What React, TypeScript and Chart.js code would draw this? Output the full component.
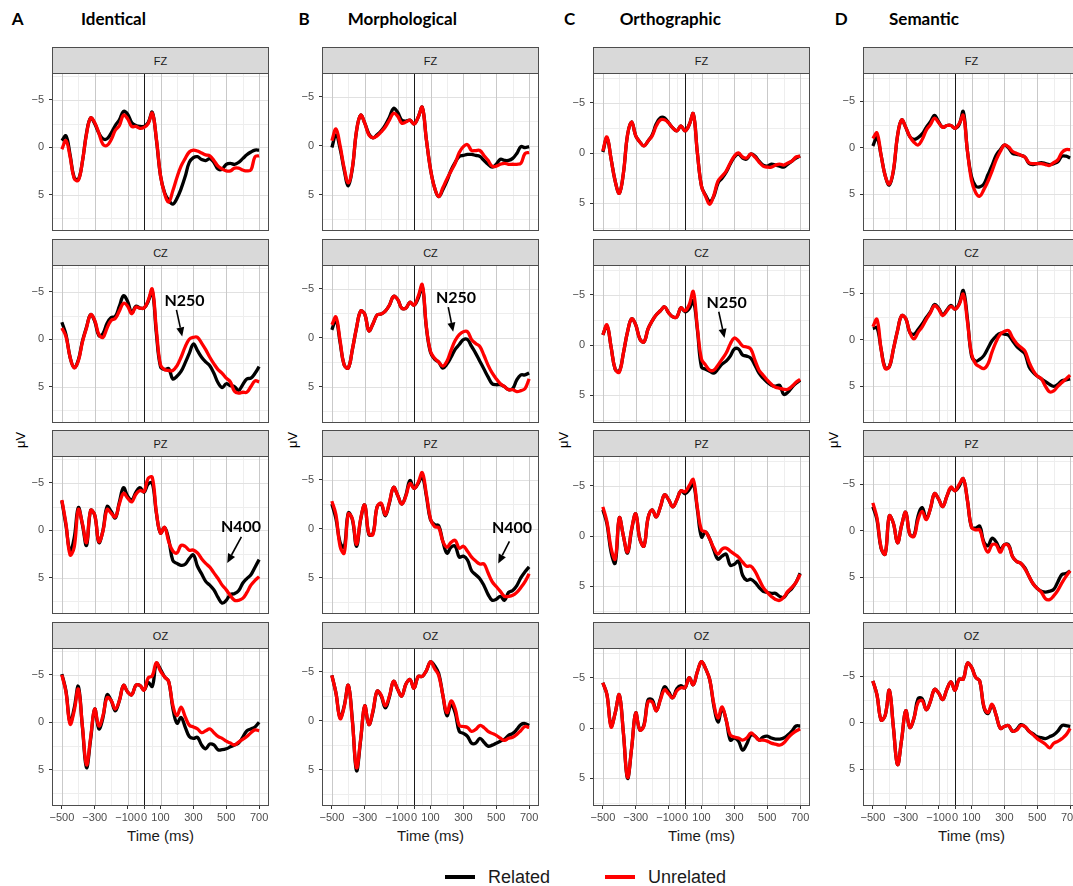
import React, { useEffect, useRef } from "react";
import { Chart, registerables } from "chart.js";

Chart.register(...registerables);

// ---------- data ----------
const TIME = [-500, -475, -450, -425, -400, -375, -350, -325, -300, -275, -250, -225, -200, -175, -150, -125, -100, -75, -50, -25, 0, 25, 50, 75, 100, 125, 150, 175, 200, 225, 250, 275, 300, 325, 350, 375, 400, 425, 450, 475, 500, 525, 550, 575, 600, 625, 650, 675, 700];

const A_FZ_REL = [-0.7, -1.2, 0.8, 3.2, 3.4, 1.5, -1.5, -3.1, -2.5, -1.5, -0.9, -0.9, -1.5, -2.3, -2.9, -3.8, -3.5, -2.6, -2.3, -2.2, -2.2, -2.6, -3.7, -0.8, 3.0, 4.8, 5.6, 6.0, 5.4, 4.4, 3.1, 1.6, 1.1, 1.0, 1.3, 1.4, 1.2, 1.6, 2.3, 2.3, 1.8, 1.7, 1.8, 1.6, 1.2, 0.8, 0.5, 0.3, 0.3];
const A_FZ_UNR = [0.2, -0.7, 1.0, 3.3, 3.5, 1.5, -1.4, -3.1, -2.6, -1.5, -0.3, -0.2, -0.8, -1.8, -2.3, -3.4, -3.0, -2.2, -2.2, -2.0, -2.1, -2.5, -3.6, -0.9, 3.0, 4.9, 5.8, 4.6, 3.2, 2.0, 1.2, 0.5, 0.3, 0.4, 0.6, 0.8, 0.9, 1.4, 2.0, 2.3, 2.5, 2.5, 2.2, 2.2, 2.4, 2.5, 2.4, 1.0, 0.9];
const A_CZ_REL = [-1.8, -0.5, 1.9, 3.0, 2.2, 0.2, -1.3, -2.6, -1.9, -0.4, -0.6, -1.7, -2.3, -2.4, -3.5, -4.6, -4.0, -2.8, -3.5, -3.3, -3.3, -4.0, -5.1, -0.6, 2.9, 3.2, 3.1, 4.2, 3.9, 3.4, 2.5, 1.5, 0.5, 1.2, 1.9, 2.4, 2.8, 3.6, 4.6, 5.1, 4.7, 4.9, 5.0, 5.4, 4.8, 4.2, 4.1, 3.6, 2.9];
const A_CZ_UNR = [-1.2, -0.3, 1.9, 3.0, 2.3, 0.3, -1.2, -2.6, -2.0, -0.5, -0.2, -1.2, -2.0, -2.2, -3.0, -3.8, -3.5, -2.7, -3.4, -3.3, -3.3, -4.1, -5.3, -1.0, 2.7, 3.2, 3.3, 3.3, 2.8, 1.9, 0.8, 0.0, -0.2, -0.2, 0.4, 1.1, 1.9, 2.6, 3.2, 3.6, 4.1, 4.5, 5.5, 5.7, 5.6, 5.6, 5.0, 4.4, 4.5];
const A_PZ_REL = [-3.1, -0.5, 2.2, 0.8, -2.4, -0.6, 1.6, -2.1, -1.6, 1.3, 0.0, -2.5, -2.0, -1.3, -3.0, -4.5, -3.6, -3.2, -4.0, -4.5, -4.0, -4.9, -5.0, -1.8, 0.3, -0.3, 1.0, 3.2, 3.5, 3.7, 3.6, 3.0, 2.6, 3.8, 4.6, 5.4, 5.8, 6.3, 7.1, 7.7, 7.4, 6.8, 6.7, 6.4, 5.6, 5.1, 4.7, 3.9, 3.1];
const A_PZ_UNR = [-3.2, -0.7, 2.6, 1.8, -2.2, -0.7, 1.3, -2.1, -1.6, 1.2, 0.1, -2.2, -1.8, -1.4, -2.8, -3.9, -3.4, -3.0, -3.8, -4.2, -4.1, -5.5, -5.6, -1.9, 0.3, -0.3, 1.2, 2.2, 2.4, 1.6, 1.7, 2.1, 2.1, 2.4, 3.0, 3.5, 3.9, 4.5, 5.1, 5.8, 6.3, 6.9, 7.4, 7.4, 7.2, 6.6, 5.8, 5.3, 4.9];
const A_OZ_REL = [-5.1, -3.3, 0.0, -1.5, -3.8, 0.5, 4.8, 1.8, -1.4, 0.7, -0.5, -2.9, -2.3, -1.2, -2.3, -3.9, -3.2, -2.9, -3.9, -3.9, -3.4, -4.2, -3.8, -6.2, -5.6, -4.8, -4.3, -1.5, 0.1, -0.5, 0.5, 1.5, 1.7, 1.6, 2.4, 2.8, 2.3, 2.4, 2.9, 2.9, 2.8, 2.6, 2.4, 2.2, 1.6, 0.9, 0.7, 0.5, 0.0];
const A_OZ_UNR = [-5.0, -3.2, 0.2, -1.2, -3.5, 0.4, 4.5, 1.6, -1.4, 0.4, -0.7, -2.6, -2.3, -1.4, -2.3, -3.9, -3.2, -2.9, -3.9, -3.9, -3.4, -4.7, -4.9, -6.3, -5.4, -4.8, -4.3, -1.8, -0.7, -1.6, -0.6, 0.3, 0.5, 0.7, 1.1, 0.9, 0.7, 1.1, 1.5, 1.7, 2.0, 2.2, 2.4, 2.1, 1.8, 1.5, 1.1, 0.8, 0.9];

const B_FZ_REL = [0.2, -1.1, 0.3, 2.5, 4.1, 2.3, -1.5, -3.1, -2.3, -1.2, -0.8, -1.1, -1.5, -2.1, -2.9, -3.8, -3.4, -2.6, -2.5, -2.6, -2.2, -2.9, -3.9, -0.6, 2.4, 4.3, 5.2, 4.5, 3.6, 2.5, 1.7, 1.1, 1.0, 0.9, 0.9, 1.0, 1.1, 1.5, 1.9, 2.2, 1.9, 1.4, 1.5, 1.5, 1.3, 0.8, 0.1, 0.2, 0.1];
const B_FZ_UNR = [-0.5, -1.7, 0.0, 2.3, 3.8, 2.2, -1.5, -3.1, -2.3, -1.1, -0.8, -1.0, -1.4, -1.9, -2.6, -3.3, -3.0, -2.3, -2.4, -2.6, -2.2, -2.9, -3.9, -0.6, 2.4, 4.3, 5.2, 4.3, 3.4, 2.6, 1.8, 0.7, 0.1, -0.1, 0.5, 0.5, 0.5, 1.0, 1.5, 2.1, 2.1, 1.9, 1.8, 1.9, 1.9, 1.9, 1.8, 0.8, 0.7];
const B_CZ_REL = [-0.8, -1.8, 0.5, 2.8, 3.1, 1.2, -1.0, -2.7, -2.4, -0.7, -1.4, -2.3, -2.4, -2.7, -3.3, -4.2, -3.9, -3.0, -3.0, -3.6, -3.3, -4.0, -5.2, -1.0, 1.5, 2.2, 2.5, 3.1, 2.7, 2.0, 1.2, 0.7, 0.2, 0.2, 0.9, 1.6, 2.4, 3.2, 4.0, 4.7, 4.8, 4.8, 5.0, 5.3, 5.2, 4.3, 3.8, 3.8, 3.6];
const B_CZ_UNR = [-1.3, -2.1, 0.3, 2.8, 3.1, 1.2, -1.0, -2.7, -2.4, -0.7, -1.4, -2.3, -2.4, -2.7, -3.3, -4.2, -3.9, -3.0, -3.0, -3.6, -3.3, -4.2, -5.4, -1.1, 1.4, 2.1, 2.5, 2.9, 2.4, 1.3, 0.3, -0.3, -0.6, -0.6, 0.2, 0.6, 0.9, 1.8, 2.8, 3.6, 4.2, 4.7, 5.0, 5.3, 5.3, 5.5, 5.4, 5.2, 4.2];
const B_PZ_REL = [-2.5, -1.0, 1.4, 1.9, -1.6, -0.9, 1.8, -0.9, -2.4, 0.6, 0.5, -2.2, -2.5, -1.3, -2.6, -4.2, -3.4, -2.5, -3.4, -4.9, -4.1, -4.6, -5.3, -3.3, -0.9, -0.4, -0.3, 1.3, 2.5, 1.9, 1.8, 2.9, 2.8, 3.2, 4.3, 4.7, 5.1, 5.8, 6.7, 7.3, 7.2, 6.9, 7.3, 6.5, 6.3, 5.8, 5.0, 4.4, 3.9];
const B_PZ_UNR = [-2.8, -1.4, 1.8, 2.5, -1.5, -1.0, 1.6, -1.0, -2.4, 0.5, 0.6, -2.2, -2.6, -1.4, -2.7, -4.2, -3.4, -2.5, -3.3, -4.6, -4.1, -4.7, -5.7, -3.5, -1.0, -0.2, -0.1, 1.3, 1.9, 1.4, 1.2, 2.0, 1.8, 2.3, 2.9, 3.3, 3.6, 3.6, 4.5, 5.4, 5.9, 6.4, 6.9, 6.9, 6.8, 6.5, 6.0, 5.4, 4.6];
const B_OZ_REL = [-4.6, -2.8, -0.3, -1.5, -3.6, 0.0, 5.1, 2.0, -1.5, 0.4, -0.9, -3.0, -2.5, -1.3, -2.4, -4.0, -3.2, -2.5, -3.7, -4.2, -3.3, -4.5, -4.5, -5.1, -6.0, -5.6, -4.8, -2.6, -0.5, -1.6, -0.8, 1.1, 1.3, 1.6, 2.3, 2.3, 1.8, 2.2, 2.6, 2.5, 2.3, 2.1, 1.9, 1.5, 1.3, 0.9, 0.4, 0.3, 0.5];
const B_OZ_UNR = [-4.6, -2.8, -0.2, -1.4, -3.6, 0.1, 4.8, 1.9, -1.5, 0.4, -1.0, -3.0, -2.6, -1.5, -2.5, -4.0, -3.2, -2.5, -3.7, -4.2, -3.3, -4.5, -4.5, -5.1, -6.0, -5.3, -4.6, -2.6, -0.8, -2.0, -1.2, 0.5, 0.6, 0.7, 1.1, 0.9, 0.5, 0.7, 1.1, 1.3, 1.5, 1.8, 2.0, 1.8, 1.7, 1.4, 1.0, 0.6, 0.7];

const C_FZ_REL = [-0.1, -1.5, 0.6, 2.8, 4.0, 2.0, -1.8, -3.1, -1.7, -1.1, -0.7, -1.2, -1.8, -2.9, -3.5, -3.5, -3.0, -2.5, -2.2, -2.7, -2.2, -2.8, -3.9, 0.0, 3.3, 4.2, 4.8, 4.3, 3.0, 2.5, 1.9, 1.1, 0.4, 0.1, 0.5, 0.6, 0.1, 0.3, 0.8, 1.2, 1.3, 1.1, 1.2, 1.3, 1.4, 1.1, 0.8, 0.5, 0.3];
const C_FZ_UNR = [-0.2, -1.6, 0.6, 2.8, 4.0, 2.0, -1.8, -3.1, -1.7, -1.1, -0.7, -1.2, -1.7, -2.7, -3.3, -3.3, -3.0, -2.5, -2.2, -2.7, -2.2, -2.8, -3.9, 0.0, 3.3, 4.3, 5.1, 4.2, 2.8, 2.3, 1.8, 1.0, 0.3, 0.0, 0.4, 0.5, 0.1, 0.4, 0.9, 1.3, 1.4, 1.4, 1.2, 1.1, 1.2, 1.0, 0.8, 0.4, 0.3];
const C_CZ_REL = [-1.0, -1.9, 0.2, 2.4, 2.6, 0.8, -1.3, -2.6, -2.0, -0.6, -0.3, -1.6, -2.4, -3.0, -3.4, -3.8, -3.2, -2.8, -2.8, -3.7, -3.3, -3.6, -4.4, -1.5, 2.2, 2.4, 2.6, 2.8, 2.4, 1.9, 1.6, 1.1, 0.4, 0.4, 1.0, 1.1, 1.3, 2.0, 2.8, 3.3, 3.7, 4.0, 4.1, 4.0, 4.9, 4.7, 4.2, 3.8, 3.5];
const C_CZ_UNR = [-1.0, -2.0, 0.2, 2.4, 2.7, 0.8, -1.3, -2.6, -2.0, -0.6, -0.3, -1.6, -2.4, -3.0, -3.4, -3.8, -3.2, -2.8, -2.8, -3.7, -3.4, -4.0, -5.3, -1.7, 1.4, 2.0, 2.5, 2.5, 2.0, 1.4, 0.8, -0.1, -0.7, -0.4, 0.1, 0.2, 0.4, 1.5, 2.5, 3.0, 3.5, 3.9, 4.2, 4.3, 4.4, 4.4, 4.1, 3.7, 3.4];
const C_PZ_REL = [-2.6, -1.2, 1.6, 2.7, -1.8, 0.0, 1.7, -0.6, -2.2, 0.3, 1.0, -1.8, -2.6, -1.9, -2.9, -4.1, -3.6, -2.9, -3.6, -4.5, -4.2, -4.6, -5.2, -2.6, 0.1, -0.4, 0.3, 1.4, 2.3, 2.0, 1.8, 2.9, 2.8, 2.5, 3.9, 4.4, 4.3, 4.6, 5.1, 5.5, 5.6, 5.7, 5.7, 6.0, 6.1, 5.6, 5.2, 4.6, 3.7];
const C_PZ_UNR = [-2.9, -1.4, 1.2, 2.3, -1.8, 0.0, 1.6, -0.7, -2.2, 0.3, 1.0, -1.8, -2.6, -1.9, -2.9, -4.1, -3.6, -2.9, -3.6, -4.5, -4.4, -5.0, -5.6, -2.8, -0.6, -0.4, 0.3, 1.2, 1.8, 1.3, 1.2, 1.5, 1.8, 2.1, 2.6, 3.0, 3.0, 3.5, 4.3, 5.1, 5.6, 6.0, 6.3, 6.4, 6.1, 5.5, 5.1, 4.6, 3.8];
const C_OZ_REL = [-4.5, -3.3, -0.2, -1.5, -3.3, 0.5, 5.0, 2.0, -1.5, 0.2, -0.3, -2.8, -2.8, -1.7, -2.9, -4.1, -3.6, -3.0, -3.9, -4.2, -4.0, -5.0, -4.3, -5.6, -6.6, -5.9, -4.8, -2.2, -0.6, -1.9, -0.8, 1.2, 1.0, 1.3, 2.2, 1.6, 0.7, 0.8, 1.2, 0.9, 0.8, 1.0, 1.1, 1.1, 1.0, 0.7, 0.3, -0.2, -0.2];
const C_OZ_UNR = [-4.5, -3.3, -0.1, -1.5, -3.3, 0.5, 4.9, 2.0, -1.5, 0.2, -0.2, -2.6, -2.6, -1.7, -2.8, -3.8, -3.4, -3.0, -3.7, -4.0, -4.0, -5.0, -4.3, -5.6, -6.6, -5.9, -4.8, -2.4, -1.0, -2.1, -0.8, 0.7, 0.9, 1.0, 1.2, 1.0, 0.5, 0.8, 1.2, 1.2, 1.3, 1.5, 1.6, 1.7, 1.5, 1.0, 0.6, 0.3, 0.1];

const D_FZ_REL = [-0.2, -1.1, 0.8, 3.0, 4.0, 2.5, -1.3, -3.0, -2.2, -1.2, -0.9, -1.1, -1.5, -2.2, -2.8, -3.5, -2.8, -2.2, -2.4, -2.4, -2.1, -2.5, -3.9, 0.3, 3.1, 4.1, 4.2, 3.9, 2.9, 1.9, 0.8, 0.2, -0.3, 0.0, 0.6, 0.7, 0.8, 1.0, 1.7, 1.8, 1.7, 1.6, 1.7, 1.8, 1.7, 1.5, 0.9, 0.9, 1.1];
const D_FZ_UNR = [-1.0, -1.6, 0.8, 3.0, 3.9, 2.4, -1.3, -3.0, -2.2, -1.2, -0.6, -0.3, -0.9, -1.9, -2.5, -3.2, -2.7, -2.2, -2.4, -2.4, -2.1, -2.6, -3.5, 0.3, 3.5, 4.8, 5.2, 4.5, 3.6, 2.5, 1.3, 0.4, -0.3, -0.1, 0.4, 0.6, 0.8, 1.0, 1.6, 1.7, 1.7, 1.7, 1.8, 1.9, 1.6, 1.3, 0.5, 0.2, 0.2];
const D_CZ_REL = [-1.2, -1.3, 1.0, 3.0, 2.9, 1.0, -1.0, -2.6, -2.3, -0.8, -0.6, -1.1, -1.7, -2.4, -3.0, -3.8, -3.4, -2.7, -3.2, -3.7, -3.3, -3.9, -5.3, -2.3, 1.7, 2.3, 2.1, 1.7, 0.9, 0.1, -0.4, -0.7, -0.6, -0.5, 0.1, 0.7, 1.1, 1.5, 2.9, 3.5, 3.9, 4.2, 4.5, 4.8, 5.0, 4.8, 4.4, 4.3, 4.2];
const D_CZ_UNR = [-1.4, -2.2, 1.0, 3.1, 2.9, 1.0, -1.0, -2.6, -2.3, -0.8, -0.1, -0.8, -1.4, -2.2, -2.9, -3.7, -3.3, -2.6, -3.1, -3.6, -3.3, -3.8, -4.9, -2.0, 1.5, 2.6, 2.9, 3.1, 2.6, 1.3, 0.2, -0.6, -0.9, -1.0, -0.2, 0.4, 0.8, 1.2, 2.4, 3.3, 3.9, 4.2, 5.0, 5.6, 5.5, 5.0, 4.6, 4.2, 3.8];
const D_PZ_REL = [-2.6, -1.2, 1.9, 2.5, -1.6, -0.8, 1.3, -0.6, -2.0, 0.4, 0.5, -1.6, -2.5, -1.3, -2.4, -4.0, -3.4, -2.6, -3.7, -4.6, -4.3, -4.8, -5.6, -3.3, -0.4, -0.3, -0.5, 1.2, 1.6, 0.8, 1.2, 2.0, 1.5, 1.5, 2.8, 3.3, 3.5, 4.0, 4.9, 5.7, 6.2, 6.5, 6.6, 6.5, 6.3, 5.5, 4.7, 4.6, 4.3];
const D_PZ_UNR = [-3.0, -1.4, 1.8, 2.5, -1.6, -0.8, 1.3, -0.6, -2.0, 0.4, 0.6, -1.2, -2.1, -1.2, -2.4, -4.0, -3.4, -2.6, -3.7, -4.7, -4.3, -5.0, -5.6, -3.3, -0.4, -0.1, -0.1, 1.4, 2.3, 1.5, 1.5, 2.3, 1.5, 1.6, 2.8, 3.3, 3.5, 4.1, 4.9, 5.7, 6.2, 6.6, 7.3, 7.4, 7.0, 6.4, 5.6, 4.9, 4.3];
const D_OZ_REL = [-4.5, -3.0, -0.3, -0.8, -3.5, 0.5, 4.5, 1.8, -1.3, 0.5, -0.5, -2.6, -2.6, -1.4, -2.3, -3.6, -3.2, -2.5, -3.6, -4.4, -3.5, -4.7, -4.7, -6.4, -6.0, -4.9, -4.5, -1.7, -1.0, -1.9, -0.8, 0.6, 0.4, 0.3, 0.9, 0.7, 0.2, 0.4, 0.9, 1.2, 1.5, 1.6, 1.7, 1.5, 1.3, 0.9, 0.3, 0.3, 0.4];
const D_OZ_UNR = [-4.5, -3.0, -0.3, -0.8, -3.5, 0.5, 4.5, 1.8, -1.3, 0.5, -0.5, -2.2, -2.4, -1.4, -2.3, -3.6, -3.2, -2.5, -3.6, -4.4, -3.5, -4.7, -4.7, -6.4, -6.0, -4.9, -4.5, -1.8, -1.1, -2.0, -0.8, 0.6, 0.4, 0.3, 0.9, 0.8, 0.3, 0.4, 0.9, 1.3, 1.7, 2.0, 2.3, 2.7, 2.2, 2.0, 1.7, 1.3, 0.6];

const X_TICKS = [-500, -300, -100, 0, 100, 300, 500, 700];
const X_MINOR = [-400, -200, -50, 50, 200, 400, 600];
const Y_TICKS = [-5, 0, 5];
const Y_MINOR = [-7.5, -2.5, 2.5, 7.5];
const SERIES_LABELS = ["Related", "Unrelated"];
const ELECTRODES = ["FZ", "CZ", "PZ", "OZ"];
const CONDITION_LETTERS = ["A", "B", "C", "D"];
const CONDITION_NAMES = ["Identical", "Morphological", "Orthographic", "Semantic"];

const PANEL_DATA = [
  [[A_FZ_REL, A_FZ_UNR], [A_CZ_REL, A_CZ_UNR], [A_PZ_REL, A_PZ_UNR], [A_OZ_REL, A_OZ_UNR]],
  [[B_FZ_REL, B_FZ_UNR], [B_CZ_REL, B_CZ_UNR], [B_PZ_REL, B_PZ_UNR], [B_OZ_REL, B_OZ_UNR]],
  [[C_FZ_REL, C_FZ_UNR], [C_CZ_REL, C_CZ_UNR], [C_PZ_REL, C_PZ_UNR], [C_OZ_REL, C_OZ_UNR]],
  [[D_FZ_REL, D_FZ_UNR], [D_CZ_REL, D_CZ_UNR], [D_PZ_REL, D_PZ_UNR], [D_OZ_REL, D_OZ_UNR]],
];

const ANNOTATIONS = [
  { col: 0, row: 1, text: "N250", tx: 246, ty: -3.5, fx: 197, fy: -3.1, ex: 232, ey: -0.3 },
  { col: 0, row: 2, text: "N400", tx: 590, ty: 0.2, fx: 592, fy: 0.7, ex: 506, ey: 3.45 },
  { col: 1, row: 1, text: "N250", tx: 255, ty: -3.5, fx: 208, fy: -3.1, ex: 238, ey: -0.6 },
  { col: 1, row: 2, text: "N400", tx: 596, ty: 0.4, fx: 580, fy: 1.3, ex: 512, ey: 3.55 },
  { col: 2, row: 1, text: "N250", tx: 253, ty: -3.7, fx: 205, fy: -3.3, ex: 240, ey: -0.7 },
];

// ---------- layout ----------
const PLOT_LEFT = [52, 322, 593, 863];
const PLOT_TOP = [73, 265, 456, 648];
const PLOT_W = 217;
const PLOT_H = 158;
const STRIP_H = 26;
const Y_AXIS_W = 40;
const PAD_T = 8;
const PAD_R = 16;
const X_AXIS_H = 26;
const X_RANGE = [-560, 760];
const Y_RANGE = [[-7.85, 8.85], [-7.4, 8.7], [-7.95, 7.75], [-8.05, 8.95]];
const COLORS = ["#000000", "#ff0000"];
const HEADER_POS = [[11.7, 81], [298.5, 347.7], [564, 619.7], [834.8, 889]];
const YTITLE_X = [20, 292, 562.5, 833];

const SANS = '"Liberation Sans", Arial, sans-serif';
const BOLD_FONT = 'Lato, "Liberation Sans", sans-serif';

function fmtTick(v: number) {
  return v < 0 ? "\u2212" + Math.abs(v) : String(v);
}

function Panel({ col, row }: { col: number; row: number }) {
  const ref = useRef<HTMLCanvasElement>(null);
  const bottom = row === 3;
  const cw = Y_AXIS_W + PLOT_W + PAD_R;
  const ch = PAD_T + PLOT_H + (bottom ? X_AXIS_H : 0);

  useEffect(() => {
    const series = PANEL_DATA[col][row];
    const notes = ANNOTATIONS.filter((a) => a.col === col && a.row === row);
    const decor = {
      id: "decor" + col + row,
      beforeDatasetsDraw(chart: any) {
        const { ctx, chartArea: a, scales } = chart;
        const x = scales.x;
        const y = scales.y;
        ctx.save();
        ctx.beginPath();
        ctx.rect(a.left, a.top, a.right - a.left, a.bottom - a.top);
        ctx.clip();
        ctx.lineWidth = 1;
        const vline = (v: number) => {
          const p = Math.round(x.getPixelForValue(v)) + 0.5;
          ctx.beginPath();
          ctx.moveTo(p, a.top);
          ctx.lineTo(p, a.bottom);
          ctx.stroke();
        };
        const hline = (v: number) => {
          const p = Math.round(y.getPixelForValue(v)) + 0.5;
          ctx.beginPath();
          ctx.moveTo(a.left, p);
          ctx.lineTo(a.right, p);
          ctx.stroke();
        };
        ctx.strokeStyle = "#eeeeee";
        X_MINOR.forEach(vline);
        Y_MINOR.forEach(hline);
        ctx.strokeStyle = "#e1e1e1";
        Y_TICKS.forEach(hline);
        ctx.strokeStyle = "#c9c9c9";
        X_TICKS.filter((v) => v !== 0).forEach(vline);
        ctx.strokeStyle = "#1a1a1a";
        vline(0);
        ctx.restore();
      },
      afterDatasetsDraw(chart: any) {
        const { ctx, scales } = chart;
        const x = scales.x;
        const y = scales.y;
        notes.forEach((n) => {
          ctx.save();
          ctx.fillStyle = "#000";
          ctx.strokeStyle = "#000";
          ctx.font = "bold 16px " + BOLD_FONT;
          ctx.textAlign = "center";
          ctx.textBaseline = "alphabetic";
          ctx.fillText(n.text, x.getPixelForValue(n.tx), y.getPixelForValue(n.ty));
          const x1 = x.getPixelForValue(n.fx);
          const y1 = y.getPixelForValue(n.fy);
          const x2 = x.getPixelForValue(n.ex);
          const y2 = y.getPixelForValue(n.ey);
          const ang = Math.atan2(y2 - y1, x2 - x1);
          const hl = 9;
          const hw = 4;
          const bx = x2 - hl * Math.cos(ang);
          const by = y2 - hl * Math.sin(ang);
          ctx.lineWidth = 1.6;
          ctx.beginPath();
          ctx.moveTo(x1, y1);
          ctx.lineTo(bx, by);
          ctx.stroke();
          ctx.beginPath();
          ctx.moveTo(x2, y2);
          ctx.lineTo(bx + hw * Math.sin(ang), by - hw * Math.cos(ang));
          ctx.lineTo(bx - hw * Math.sin(ang), by + hw * Math.cos(ang));
          ctx.closePath();
          ctx.fill();
          ctx.restore();
        });
      },
      afterDraw(chart: any) {
        const { ctx, chartArea: a } = chart;
        ctx.save();
        ctx.strokeStyle = "#4d4d4d";
        ctx.lineWidth = 1;
        ctx.strokeRect(a.left + 0.5, a.top + 0.5, a.right - a.left - 1, a.bottom - a.top - 1);
        ctx.restore();
      },
    };

    const chart = new Chart(ref.current as HTMLCanvasElement, {
      type: "line",
      data: {
        datasets: series.map((vals, si) => ({
          label: SERIES_LABELS[si],
          data: TIME.map((t, i) => ({ x: t, y: vals[i] })),
          borderColor: COLORS[si],
          backgroundColor: COLORS[si],
          borderWidth: 3.3,
          pointRadius: 0,
          tension: 0.4,
          fill: false,
          order: si === 0 ? 1 : 0,
        })),
      },
      options: {
        responsive: false,
        animation: false,
        events: [],
        layout: { padding: { top: PAD_T, right: PAD_R, left: 0, bottom: 0 } },
        plugins: { legend: { display: false }, tooltip: { enabled: false }, title: { display: false } },
        scales: {
          x: {
            type: "linear",
            min: X_RANGE[0],
            max: X_RANGE[1],
            afterBuildTicks: (s: any) => {
              s.ticks = X_TICKS.map((v) => ({ value: v }));
            },
            afterFit: (s: any) => {
              s.height = bottom ? X_AXIS_H : 0;
              s.paddingLeft = 0;
              s.paddingRight = 0;
            },
            ticks: {
              display: bottom,
              autoSkip: false,
              maxRotation: 0,
              minRotation: 0,
              padding: 2,
              color: "#4d4d4d",
              font: { family: SANS, size: 11 },
              callback: (v: any) => fmtTick(Number(v)),
            },
            grid: { drawOnChartArea: false, drawTicks: bottom, tickLength: 3, tickColor: "#333333" },
            border: { display: false },
          },
          y: {
            type: "linear",
            reverse: true,
            min: Y_RANGE[col][0],
            max: Y_RANGE[col][1],
            afterBuildTicks: (s: any) => {
              s.ticks = Y_TICKS.map((v) => ({ value: v }));
            },
            afterFit: (s: any) => {
              s.width = Y_AXIS_W;
              s.paddingTop = 0;
              s.paddingBottom = 0;
            },
            ticks: {
              padding: 5,
              color: "#4d4d4d",
              font: { family: SANS, size: 11 },
              callback: (v: any) => fmtTick(Number(v)),
            },
            grid: { drawOnChartArea: false, drawTicks: true, tickLength: 3, tickColor: "#333333" },
            border: { display: false },
          },
        },
      },
      plugins: [decor],
    } as any);
    return () => chart.destroy();
  }, [col, row]);

  return (
    <>
      <div
        style={{
          position: "absolute",
          left: PLOT_LEFT[col],
          top: PLOT_TOP[row] - STRIP_H,
          width: PLOT_W,
          height: STRIP_H + 1,
          boxSizing: "border-box",
          border: "1px solid #4d4d4d",
          background: "#d9d9d9",
          display: "flex",
          alignItems: "center",
          justifyContent: "center",
          fontFamily: SANS,
          fontSize: 11,
          color: "#1a1a1a",
        }}
      >
        {ELECTRODES[row]}
      </div>
      <canvas
        ref={ref}
        width={cw}
        height={ch}
        style={{
          position: "absolute",
          left: PLOT_LEFT[col] - Y_AXIS_W,
          top: PLOT_TOP[row] - PAD_T,
          width: cw,
          height: ch,
          display: "block",
        }}
      />
    </>
  );
}

export default function App() {
  const cols = [0, 1, 2, 3];
  const rows = [0, 1, 2, 3];
  return (
    <div
      style={{
        position: "absolute",
        left: 0,
        top: 0,
        width: 1073,
        height: 886,
        overflow: "hidden",
        background: "#ffffff",
      }}
    >
      {cols.map((c) => (
        <React.Fragment key={"h" + c}>
          <div
            style={{
              position: "absolute",
              left: HEADER_POS[c][0],
              top: 10,
              fontFamily: BOLD_FONT,
              fontWeight: 700,
              fontSize: 17,
              lineHeight: "17px",
              color: "#000",
              whiteSpace: "nowrap",
            }}
          >
            {CONDITION_LETTERS[c]}
          </div>
          <div
            style={{
              position: "absolute",
              left: HEADER_POS[c][1],
              top: 10,
              fontFamily: BOLD_FONT,
              fontWeight: 700,
              fontSize: 17,
              lineHeight: "17px",
              color: "#000",
              whiteSpace: "nowrap",
            }}
          >
            {CONDITION_NAMES[c]}
          </div>
          <div
            style={{
              position: "absolute",
              left: YTITLE_X[c],
              top: 440,
              transform: "translate(-50%, -50%) rotate(-90deg)",
              fontFamily: SANS,
              fontSize: 13,
              color: "#000",
              whiteSpace: "nowrap",
            }}
          >
            μV
          </div>
          <div
            style={{
              position: "absolute",
              left: PLOT_LEFT[c] + PLOT_W / 2,
              top: 835,
              transform: "translate(-50%, -50%)",
              fontFamily: SANS,
              fontSize: 15,
              color: "#1a1a1a",
              whiteSpace: "nowrap",
            }}
          >
            Time (ms)
          </div>
        </React.Fragment>
      ))}
      {cols.map((c) => rows.map((r) => <Panel key={c + "-" + r} col={c} row={r} />))}
      {SERIES_LABELS.map((lab, i) => (
        <React.Fragment key={lab}>
          <div
            style={{
              position: "absolute",
              left: i === 0 ? 445 : 605,
              top: 875,
              width: 30,
              height: 4,
              background: COLORS[i],
            }}
          />
          <div
            style={{
              position: "absolute",
              left: i === 0 ? 488 : 648,
              top: 868,
              fontFamily: SANS,
              fontSize: 18,
              lineHeight: "18px",
              color: "#1a1a1a",
              whiteSpace: "nowrap",
            }}
          >
            {lab}
          </div>
        </React.Fragment>
      ))}
    </div>
  );
}
